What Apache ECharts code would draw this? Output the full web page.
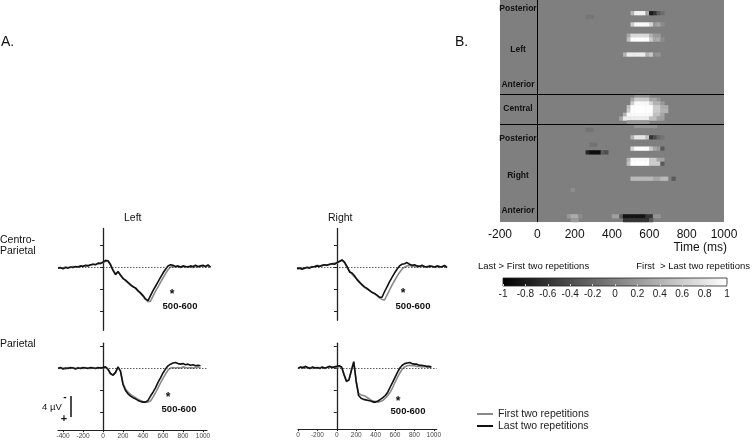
<!DOCTYPE html>
<html><head><meta charset="utf-8">
<script src="https://cdn.jsdelivr.net/npm/echarts@6/dist/echarts.min.js"></script>
<style>html,body{margin:0;padding:0;background:#fff}#c{width:755px;height:441px}</style>
</head><body><div id="c"></div>
<script>
// ---- Panel A data (µV, positive plotted downward) ----
const times = [-450,-425,-400,-375,-350,-325,-300,-275,-250,-225,-200,-175,-150,-125,-100,-75,-50,-25,0,25,50,75,100,125,150,175,200,225,250,275,300,325,350,375,400,425,450,475,500,525,550,575,600,625,650,675,700,725,750,775,800,825,850,875,900,925,950,975,1000,1025,1050,1075,1100];
const tlLast  = [0.2,0.1,0.3,0.1,0.2,0.0,0.1,-0.1,0.0,-0.2,-0.1,-0.3,-0.2,-0.4,-0.5,-0.4,-0.7,-0.6,-0.9,-1.2,-1.1,-0.4,0.6,1.4,0.8,1.5,2.1,2.4,2.8,3.2,3.6,3.8,4.3,4.7,5.2,5.8,6.1,5.2,4.3,3.5,2.7,1.9,1.1,0.4,-0.2,-0.4,-0.3,-0.1,-0.2,0.0,-0.2,-0.1,0.0,-0.2,-0.1,-0.3,-0.1,-0.2,-0.3,-0.1,-0.4,0.0,null];
const tlFirst = [0.1,0.2,0.2,0.0,0.1,0.1,-0.1,0.0,-0.1,-0.1,-0.2,-0.2,-0.3,-0.3,-0.5,-0.5,-0.6,-0.8,-0.8,-1.0,-1.2,-0.5,0.5,1.2,1.0,1.4,2.0,2.5,2.9,3.3,3.5,3.9,4.4,4.8,5.3,5.9,6.3,6.2,5.3,4.4,3.6,2.8,2.0,1.2,0.5,0.0,-0.1,0.0,-0.1,0.1,-0.1,0.0,-0.1,0.0,0.1,-0.1,0.0,-0.1,-0.2,0.0,-0.2,0.1,null];
const trLast  = [null,null,0.3,0.2,0.4,0.2,0.1,0.2,0.0,-0.1,-0.2,-0.1,-0.3,-0.4,-0.3,-0.5,-0.6,-0.5,-0.8,-1.0,-1.3,-0.9,-0.1,0.9,1.1,1.6,2.3,2.8,3.2,3.6,3.9,4.3,4.6,4.8,5.1,5.5,5.5,4.5,3.6,2.7,1.9,1.1,0.4,-0.2,-0.5,-0.6,-0.8,-0.5,-0.3,-0.4,-0.2,-0.1,-0.3,-0.1,0.0,-0.2,-0.1,0.0,-0.2,-0.1,0.0,-0.3,0.1];
const trFirst = [null,null,0.2,0.3,0.2,0.3,0.0,0.1,-0.1,0.0,-0.3,-0.2,-0.2,-0.4,-0.4,-0.4,-0.6,-0.7,-0.7,-1.1,-1.2,-0.8,0.1,0.7,1.3,1.8,2.2,2.7,3.3,3.7,4.0,4.2,4.6,4.9,5.2,5.6,5.9,6.0,5.1,4.2,3.3,2.5,1.7,1.0,0.4,0.0,-0.2,-0.3,-0.1,-0.2,0.0,-0.2,-0.1,0.0,-0.1,0.0,-0.2,0.0,-0.1,0.1,-0.1,-0.2,0.0];
const blLast  = [0.1,-0.1,0.2,0.0,0.1,-0.1,0.0,0.2,0.0,0.1,-0.1,0.0,0.1,-0.1,0.0,0.1,-0.1,0.0,-0.1,-0.2,0.2,1.0,1.3,0.8,-0.2,0.6,3.0,4.1,4.7,5.1,5.4,5.6,5.9,6.1,6.2,6.2,5.9,5.1,4.4,3.6,2.6,1.8,0.9,0.2,-0.4,-0.7,-0.9,-1.0,-0.8,-0.7,-0.8,-0.6,-0.7,-0.5,-0.6,-0.4,-0.5,-0.4,null,null,null,null,null];
const blFirst = [0.0,0.1,0.0,0.2,-0.1,0.1,-0.1,0.1,-0.1,0.0,0.1,-0.1,0.0,0.1,-0.1,0.0,0.1,-0.1,0.0,-0.1,0.3,1.1,1.3,0.9,-0.1,0.5,2.8,3.8,4.4,4.8,5.1,5.4,5.7,5.9,6.1,6.2,6.2,6.0,5.3,4.5,3.6,2.7,1.9,1.1,0.4,0.0,-0.1,0.0,-0.1,0.0,-0.2,-0.1,0.0,-0.1,0.0,-0.1,-0.2,0.0,null,null,null,null,null];
const brLast  = [null,null,0.1,-0.2,0.0,-0.3,-0.1,0.1,-0.2,0.0,-0.1,0.1,-0.2,0.0,-0.1,-0.3,-0.1,-0.2,-0.3,-0.4,-0.2,1.2,2.4,2.2,0.5,-1.1,2.5,5.0,5.5,5.7,5.8,5.9,6.0,6.2,6.2,6.0,5.7,5.4,5.0,4.4,3.5,2.6,1.7,0.8,0.0,-0.5,-0.8,-0.9,-1.0,-0.8,-0.7,-0.7,-0.5,-0.5,-0.4,-0.3,-0.3,-0.2,null,null,null,null,null];
const brFirst = [null,null,0.0,-0.1,-0.2,-0.1,0.0,-0.1,0.1,-0.1,0.0,-0.1,-0.1,0.1,-0.2,-0.1,-0.2,-0.1,-0.2,-0.3,-0.1,1.3,2.5,2.1,0.4,-1.2,2.3,4.6,4.9,5.0,5.2,5.5,5.8,6.0,6.1,6.2,6.1,5.9,5.5,5.0,4.4,3.6,2.6,1.7,0.9,0.2,-0.2,-0.4,-0.5,-0.4,-0.4,-0.3,-0.3,-0.2,-0.3,-0.2,-0.1,-0.2,null,null,null,null,null];
const seriesNames = ['First two repetitions','Last two repetitions'];
const yTicks = [-4,0,4,8];
const xTicksA = [-400,-200,0,200,400,600,800,1000];
const xLabelsBL = ['-400','-200','0','200','400','600','800','1000'];
const xLabelsBR = ['0','-200','0','200','400','600','800','1000'];
// ---- Panel B data ----
const heatTicks = [-200,0,200,400,600,800,1000];
const heatTickLabels = ['-200','0','200','400','600','800','1000'];
const cbTicks = [-1,-0.8,-0.6,-0.4,-0.2,0,0.2,0.4,0.6,0.8,1];
const cbTickLabels = ['-1','-0.8','-0.6','-0.4','-0.2','0','0.2','0.4','0.6','0.8','1'];
const heatRowCount = 59;
const sectionBounds = [25,33];
const heatBinMs = 20;
// [row, startMs, endMs, value]
const heatRuns = [
 [3,500,520,0.4],[3,520,580,0.9],[3,580,600,0.3],[3,600,620,-0.8],[3,620,640,-0.6],[3,640,660,-0.3],[3,660,680,-0.15],
 [4,260,300,-0.08],
 [6,500,520,0.6],[6,520,600,0.95],[6,600,620,0.7],[6,620,640,0.2],[6,640,660,0.3],[6,660,680,0.1],
 [9,480,500,0.3],[9,500,600,0.7],[9,600,620,0.4],[9,620,660,0.2],
 [10,480,500,0.5],[10,500,600,1.0],[10,600,620,0.6],[10,620,640,0.3],[10,640,660,0.35],[10,660,680,0.1],
 [14,460,480,0.4],[14,480,580,0.85],[14,580,600,0.4],[14,600,620,0.6],[14,620,640,0.1],[14,640,660,0.15],
 [25,520,600,0.15],
 [26,500,520,0.3],[26,520,600,0.6],[26,600,640,0.3],[26,640,660,0.15],
 [27,500,520,0.6],[27,520,600,0.95],[27,600,620,0.7],[27,620,660,0.4],[27,660,680,0.2],
 [28,480,500,0.5],[28,500,620,1.0],[28,620,660,0.6],[28,660,700,0.35],
 [29,480,500,0.6],[29,500,620,1.0],[29,620,660,0.6],[29,660,700,0.4],
 [30,460,480,0.4],[30,480,620,0.95],[30,620,660,0.5],[30,660,680,0.3],
 [31,440,460,0.3],[31,460,600,0.85],[31,600,640,0.5],[31,640,680,0.25],
 [32,480,600,0.2],
 [33,520,640,0.15],
 [34,260,300,-0.1],
 [36,500,520,0.4],[36,520,580,0.8],[36,580,600,0.5],[36,600,620,-0.6],[36,620,640,-0.4],[36,640,660,-0.2],[36,660,680,-0.1],
 [38,280,320,-0.1],
 [39,500,520,0.7],[39,520,600,1.0],[39,600,620,0.6],[39,620,640,0.3],[39,640,660,0.2],[39,660,680,-0.3],
 [40,260,280,-0.7],[40,280,340,-0.9],[40,340,360,-0.3],[40,360,380,-0.4],
 [42,480,500,0.4],[42,500,600,0.95],[42,600,640,0.6],[42,640,680,0.3],
 [43,480,500,0.5],[43,500,600,1.0],[43,600,660,0.6],[43,660,680,-0.3],
 [47,500,620,0.45],[47,620,660,0.3],[47,660,700,0.45],[47,720,740,-0.3],
 [50,180,200,0.1],
 [57,160,180,0.2],[57,180,220,0.35],[57,220,240,0.1],[57,400,440,0.25],[57,440,460,-0.3],[57,460,580,-0.85],[57,580,620,-0.6],[57,620,660,0.15],
 [58,180,220,0.2],[58,460,600,-0.6],[58,600,620,-0.3]
];

const FONT = "'Liberation Sans', Arial, sans-serif";
const GREY = '#8a8a8a', BLACK = '#111111';

function pairs(vals){ const out=[]; times.forEach((t,i)=>{ if(vals[i]!==null) out.push([t,vals[i]]); }); return out; }

const heatBins = []; for (let t=-200; t<1000; t+=heatBinMs) heatBins.push(String(t));
const heatRowsCat = []; for (let r=0; r<heatRowCount; r++) heatRowsCat.push(String(r));
const heatData = [];
heatRuns.forEach(([row,s,e,v])=>{ for(let t=s;t<e;t+=heatBinMs) heatData.push([(t+200)/heatBinMs,row,v]); });

const grids = [
  {left:58, top:228.5, width:152.5, height:101.75},
  {left:297, top:228.5, width:150, height:91.85},
  {left:58, top:343.25, width:149, height:86.9},
  {left:298, top:343.25, width:138.7, height:85.8},
  {left:500, top:0, width:224, height:222, show:true, backgroundColor:'#7f7f7f', borderWidth:0},
  {left:503, top:278, width:224, height:8, show:true, borderColor:'#222', borderWidth:0.8,
   backgroundColor:{type:'linear',x:0,y:0,x2:1,y2:0,colorStops:[{offset:0,color:'#000'},{offset:0.5,color:'#808080'},{offset:1,color:'#fff'}]}}
];

function hiddenX(g,min,max){ return {type:'value',gridIndex:g,min,max,show:true,axisLine:{show:false,onZero:false},axisTick:{show:false},axisLabel:{show:false},splitLine:{show:false}}; }
function bottomX(g,min,max,labels){
  return {type:'value',gridIndex:g,min,max,position:'bottom',
    axisLine:{show:true,onZero:false,lineStyle:{color:'#222',width:1.2}},
    axisTick:{show:true,length:2,customValues:xTicksA,lineStyle:{color:'#222'}},
    axisLabel:{show:true,customValues:xTicksA,fontSize:6.5,color:'#444',fontFamily:FONT,margin:3,
      formatter:v=>labels[xTicksA.indexOf(v)]},
    splitLine:{show:false}};
}
function erpY(g,min,max){
  return {type:'value',gridIndex:g,min,max,inverse:true,
    axisLine:{show:true,onZero:true,lineStyle:{color:'#222',width:1.3}},
    axisTick:{show:true,length:3,customValues:yTicks,lineStyle:{color:'#222'}},
    axisLabel:{show:false},splitLine:{show:false}};
}

const xAxes = [
  hiddenX(0,-450,1075), hiddenX(1,-400,1100),
  bottomX(2,-450,1040,xLabelsBL), bottomX(3,-400,1030,xLabelsBR),
  {type:'category',gridIndex:4,data:heatBins,show:false},
  {type:'value',gridIndex:4,min:-200,max:1000,position:'bottom',axisLine:{show:false,onZero:false},axisTick:{show:false},
    axisLabel:{customValues:heatTicks,fontSize:12,color:'#111',fontFamily:FONT,margin:7,
      formatter:v=>heatTickLabels[heatTicks.indexOf(v)]},splitLine:{show:false}},
  {type:'value',gridIndex:5,min:-1,max:1,position:'bottom',axisLine:{show:false,onZero:false},
    axisTick:{show:true,inside:true,length:2,customValues:cbTicks,lineStyle:{color:'#cfcfcf'}},
    axisLabel:{customValues:cbTicks,fontSize:10,color:'#222',fontFamily:FONT,margin:3,
      formatter:v=>{const i=cbTicks.findIndex(c=>Math.abs(c-v)<1e-6); return i<0?'':cbTickLabels[i];}},splitLine:{show:false}}
];
const yAxes = [
  erpY(0,-7,11.5), erpY(1,-7,9.7), erpY(2,-4.5,11.3), erpY(3,-4.5,11.1),
  {type:'category',gridIndex:4,data:heatRowsCat,inverse:true,show:false},
  {type:'value',gridIndex:4,min:0,max:heatRowCount,inverse:true,show:false},
  {type:'value',gridIndex:5,min:0,max:1,show:false}
];

function erpSeries(idx,vals,isFirst){
  const s = {type:'line',name:isFirst?seriesNames[0]:seriesNames[1],xAxisIndex:idx,yAxisIndex:idx,data:pairs(vals),
    showSymbol:false,symbol:'none',animation:false,z:isFirst?2:3,
    lineStyle:{color:isFirst?GREY:BLACK,width:1.6},itemStyle:{color:isFirst?GREY:BLACK}};
  if(isFirst) s.markLine = {silent:true,symbol:'none',animation:false,label:{show:false},
    lineStyle:{color:'#333',width:0.8,type:[1.5,1.5]},data:[{yAxis:0}]};
  return s;
}

const series = [
  erpSeries(0,tlFirst,true), erpSeries(0,tlLast,false),
  erpSeries(1,trFirst,true), erpSeries(1,trLast,false),
  erpSeries(2,blFirst,true), erpSeries(2,blLast,false),
  erpSeries(3,brFirst,true), erpSeries(3,brLast,false),
  {type:'heatmap',xAxisIndex:4,yAxisIndex:4,data:heatData,animation:false,itemStyle:{borderWidth:0},emphasis:{disabled:true}},
  {type:'line',xAxisIndex:5,yAxisIndex:5,data:[],silent:true,
   markLine:{silent:true,symbol:'none',animation:false,label:{show:false},lineStyle:{color:'#000',width:1,type:'solid'},
     data:[{xAxis:0}].concat(sectionBounds.map(b=>({yAxis:b})))}}
];

function txt(x,y,text,size,opts){
  opts = opts||{};
  return {type:'text',x,y,silent:true,z:10,style:{text,font:(opts.bold?'bold ':'')+size+'px '+FONT,fill:opts.color||'#111',
    textAlign:opts.align||'left',textVerticalAlign:opts.valign||'middle'}};
}

const graphics = [
  txt(1,42,'A.',14), txt(455,42,'B.',14),
  txt(124,218,'Left',10.5), txt(328,218,'Right',10.5),
  txt(0,240,'Centro-',10.5), txt(0,251,'Parietal',10.5),
  txt(0,344,'Parietal',10.5),
  txt(172,295,'*',12,{bold:true,align:'center'}), txt(180,306,'500-600',9.5,{bold:true,align:'center'}),
  txt(403,294,'*',12,{bold:true,align:'center'}), txt(413,306,'500-600',9.5,{bold:true,align:'center'}),
  txt(168,398,'*',12,{bold:true,align:'center'}), txt(179,409,'500-600',9.5,{bold:true,align:'center'}),
  txt(398,402,'*',12,{bold:true,align:'center'}), txt(408,411,'500-600',9.5,{bold:true,align:'center'}),
  txt(42,407,'4 µV',9.5), txt(65,397,'-',10,{bold:true,align:'center'}), txt(64,419,'+',11,{bold:true,align:'center'}),
  {type:'line',silent:true,shape:{x1:71,y1:396,x2:71,y2:417},style:{stroke:'#111',lineWidth:1.5}},
  txt(727,248,'Time (ms)',12,{align:'right'}),
  txt(478,266,'Last > First two repetitions',9.5),
  txt(750,266,'First  > Last two repetitions',9.5,{align:'right'}),
  txt(518,9,'Posterior',8.5,{bold:true,align:'center'}),
  txt(518,50,'Left',8.5,{bold:true,align:'center'}),
  txt(518,85,'Anterior',8.5,{bold:true,align:'center'}),
  txt(518,109,'Central',8.5,{bold:true,align:'center'}),
  txt(518,139,'Posterior',8.5,{bold:true,align:'center'}),
  txt(518,176,'Right',8.5,{bold:true,align:'center'}),
  txt(518,211,'Anterior',8.5,{bold:true,align:'center'})
];

const chart = echarts.init(document.getElementById('c'), null, {renderer:'canvas'});
chart.setOption({
  animation:false,
  backgroundColor:'#ffffff',
  textStyle:{fontFamily:FONT},
  grid:grids, xAxis:xAxes, yAxis:yAxes, series,
  visualMap:{type:'continuous',show:false,min:-1,max:1,seriesIndex:8,dimension:2,inRange:{color:['#000000','#808080','#ffffff']}},
  legend:{data:seriesNames,orient:'vertical',left:472,top:403,icon:'rect',itemWidth:16,itemHeight:2,itemGap:0,
    selectedMode:false,textStyle:{fontSize:10.5,color:'#222',fontFamily:FONT,lineHeight:12}},
  graphic:graphics
});
</script></body></html>
